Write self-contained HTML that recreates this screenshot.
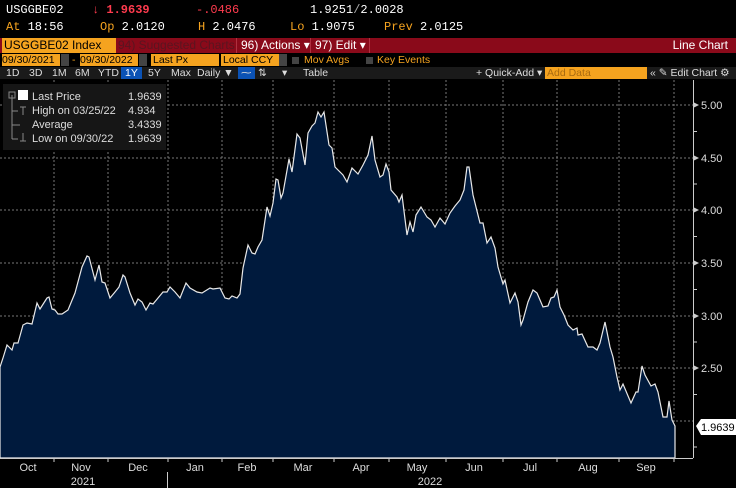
<!DOCTYPE html>
<html><head><meta charset="utf-8"><style>
body{margin:0;width:736px;height:488px;background:#000;overflow:hidden;position:relative;font-family:"Liberation Sans",sans-serif;}
.a{position:absolute;white-space:nowrap;}
.m{font-family:"Liberation Mono",monospace;font-size:12px;color:#fff;}
.o{color:#f5a31f;}
.s{font-size:10.5px;}
</style></head><body>
<div class="a m" style="left:6px;top:3px">USGGBE02</div>
<div class="a m" style="left:92px;top:3px;color:#ff3b4e">&#8595; <b>1.9639</b></div>
<div class="a m" style="left:196px;top:3px;color:#ff3b4e">-.0486</div>
<div class="a m" style="left:310px;top:3px">1.9251<span style="color:#aaa">/</span>2.0028</div>
<div class="a m" style="left:6px;top:20px"><span class="o">At</span> 18:56</div>
<div class="a m" style="left:100px;top:20px"><span class="o">Op</span> 2.0120</div>
<div class="a m" style="left:198px;top:20px"><span class="o">H</span>  2.0476</div>
<div class="a m" style="left:290px;top:20px"><span class="o">Lo</span> 1.9075</div>
<div class="a m" style="left:384px;top:20px"><span class="o">Prev</span> 2.0125</div>

<div class="a" style="left:0;top:38px;width:736px;height:15px;background:#8a0a1a"></div>
<div class="a" style="left:2px;top:38px;width:114px;height:15px;background:#f5a31f;color:#000;font-size:12px;line-height:15px;padding-left:2px;box-sizing:border-box">USGGBE02 Index</div>
<div class="a" style="left:118px;top:38px;font-size:12px;line-height:15px;color:#5a1520">94) Suggested Charts</div>
<div class="a" style="left:236px;top:38px;width:72px;height:15px;border-left:1px solid #b03040;font-size:12px;line-height:15px;color:#fff;padding-left:4px">96) Actions ▾</div>
<div class="a" style="left:310px;top:38px;width:54px;height:15px;border-left:1px solid #b03040;border-right:1px solid #b03040;font-size:12px;line-height:15px;color:#fff;padding-left:4px">97) Edit ▾</div>
<div class="a" style="right:8px;top:38px;font-size:12px;line-height:15px;color:#fff">Line Chart</div>

<div class="a s" style="left:2px;top:54px;width:58px;height:12px;background:#f5a31f;color:#000;line-height:12px">09/30/2021</div>
<div class="a s" style="left:61px;top:54px;width:8px;height:12px;background:#444"></div>
<div class="a s" style="left:72px;top:54px;color:#f5a31f;line-height:12px">-</div>
<div class="a s" style="left:80px;top:54px;width:58px;height:12px;background:#f5a31f;color:#000;line-height:12px">09/30/2022</div>
<div class="a s" style="left:139px;top:54px;width:8px;height:12px;background:#444"></div>
<div class="a s" style="left:151px;top:54px;width:66px;height:12px;background:#f5a31f;color:#000;line-height:12px;padding-left:2px">Last Px</div>
<div class="a s" style="left:221px;top:54px;width:56px;height:12px;background:#f5a31f;color:#000;line-height:12px;padding-left:2px">Local CCY</div>
<div class="a s" style="left:279px;top:54px;width:8px;height:12px;background:#444"></div>
<div class="a" style="left:292px;top:57px;width:7px;height:7px;background:#444"></div>
<div class="a s o" style="left:304px;top:54px;line-height:12px">Mov Avgs</div>
<div class="a" style="left:366px;top:57px;width:7px;height:7px;background:#444"></div>
<div class="a s o" style="left:377px;top:54px;line-height:12px">Key Events</div>

<div class="a" style="left:0;top:67px;width:736px;height:12px;background:#1a1a1a"></div>
<div class="a s" style="left:0;top:67px;line-height:12px;color:#ddd;word-spacing:0">
<span style="position:absolute;left:6px">1D</span><span style="position:absolute;left:29px">3D</span><span style="position:absolute;left:52px">1M</span><span style="position:absolute;left:75px">6M</span><span style="position:absolute;left:98px">YTD</span><span style="position:absolute;left:121px;background:#0b52b5;padding:0 4px;color:#fff">1Y</span><span style="position:absolute;left:148px">5Y</span><span style="position:absolute;left:171px">Max</span><span style="position:absolute;left:197px">Daily ▼</span><span style="position:absolute;left:238px;background:#0b52b5;padding:0 3px">⁓</span><span style="position:absolute;left:258px">⇅</span><span style="position:absolute;left:282px">▾</span><span style="position:absolute;left:303px">Table</span></div>
<div class="a s" style="left:476px;top:67px;line-height:12px;color:#ddd">+ Quick-Add ▾</div>
<div class="a s" style="left:545px;top:67px;width:100px;height:12px;background:#f5a31f;color:#a86a10;line-height:12px;padding-left:2px">Add Data</div>
<div class="a s" style="left:650px;top:67px;line-height:12px;color:#ddd">« &#9998; Edit Chart ⚙</div>

<svg class="a" style="left:0;top:80px" width="736" height="408" viewBox="0 80 736 408">
<g stroke="#777" stroke-width="1" stroke-dasharray="2,2" fill="none">
<path d="M0 105H693M0 158H693M0 210H693M0 263H693M0 316H693M0 368H693M0 421H693"/>
<path d="M54 80V458M108 80V458M168 80V458M222 80V458M273 80V458M334 80V458M389 80V458M446 80V458M503 80V458M557 80V458M619 80V458M674 80V458"/>
</g>
<path fill="#001a3d" stroke="#e8e8e8" stroke-width="1.2" d="M0 367L3 358L7 345L12 350L14 343L18 343L23 325L27 323L32 324L37 303L40 309L47 298L49 297L52 309L55 310L58 314L62 314L65 312L68 310L75 293L82 267L87 256L89 257L95 280L99 265L102 282L105 283L110 298L115 292L119 287L123 275L125 277L130 293L135 305L138 299L142 302L146 310L150 303L153 304L158 298L163 292L167 292L170 287L175 292L180 298L186 283L190 288L197 292L202 293L210 288L213 289L220 288L225 298L229 299L232 296L237 298L240 294L243 268L248 245L252 253L255 254L258 247L262 240L267 207L270 216L273 203L276 179L278 180L281 198L283 193L289 159L292 172L297 134L300 138L305 165L308 133L312 126L315 123L318 112L321 117L324 112L329 145L332 148L335 167L343 175L347 182L352 168L358 174L363 165L368 155L372 136L375 160L380 177L383 175L386 164L389 172L391 190L397 197L399 202L402 195L407 235L410 222L413 232L416 215L421 207L427 217L431 220L435 227L440 218L445 224L450 213L455 206L460 200L464 190L467 167L469 167L473 195L480 223L483 223L487 243L491 237L495 248L498 267L503 284L505 280L510 303L515 293L518 302L521 325L523 320L528 302L533 290L537 293L543 307L548 306L551 298L554 297L557 290L560 307L564 315L568 325L573 330L577 328L578 335L582 334L588 347L593 347L597 350L600 343L605 322L610 347L613 357L617 377L620 390L623 384L631 403L636 392L638 392L642 366L645 375L651 386L655 384L658 392L663 417L667 417L669 401L672 420L675 426L675 458L0 458Z"/>
<path d="M0 458.5H693M693.5 80V458" stroke="#ccc" stroke-width="1"/>
<path d="M54 458V462M108 458V462M168 458V462M222 458V462M273 458V462M334 458V462M389 458V462M446 458V462M503 458V462M557 458V462M619 458V462M674 458V462M167.5 472V488" stroke="#ccc"/>
<g stroke="#ccc"><path d="M693 131.5h4M693 184h4M693 236.5h4M693 289.5h4M693 342h4M693 394.5h4M693 447h4"/></g>
<g fill="#ccc"><path d="M693 102l6 3-6 3z"/><path d="M693 155l6 3-6 3z"/><path d="M693 207l6 3-6 3z"/><path d="M693 260l6 3-6 3z"/><path d="M693 313l6 3-6 3z"/><path d="M693 365l6 3-6 3z"/></g>
<g fill="#ddd" font-family="Liberation Sans,sans-serif" font-size="11">
<text x="701" y="109">5.00</text><text x="701" y="162">4.50</text><text x="701" y="214">4.00</text><text x="701" y="267">3.50</text><text x="701" y="320">3.00</text><text x="701" y="372">2.50</text>
<g text-anchor="middle"><text x="28" y="471">Oct</text><text x="81" y="471">Nov</text><text x="138" y="471">Dec</text><text x="195" y="471">Jan</text><text x="247" y="471">Feb</text><text x="303" y="471">Mar</text><text x="361" y="471">Apr</text><text x="417" y="471">May</text><text x="474" y="471">Jun</text><text x="530" y="471">Jul</text><text x="588" y="471">Aug</text><text x="646" y="471">Sep</text><text x="83" y="485">2021</text><text x="430" y="485">2022</text></g>
</g>
<path d="M696 426l5-7h35v16h-35z" fill="#fff"/>
<text x="701" y="431" font-family="Liberation Sans,sans-serif" font-size="11" fill="#000">1.9639</text>
<rect x="3" y="84" width="163" height="66" fill="#161616"/>
<g fill="#ddd" font-family="Liberation Sans,sans-serif" font-size="11">
<rect x="18" y="90" width="10" height="10" fill="#fff"/>
<text x="32" y="100">Last Price</text><text x="128" y="100">1.9639</text>
<text x="32" y="114">High on 03/25/22</text><text x="128" y="114">4.934</text>
<text x="32" y="128">Average</text><text x="128" y="128">3.4339</text>
<text x="32" y="142">Low on 09/30/22</text><text x="128" y="142">1.9639</text>
</g>
<path d="M12 95V139M12 111h6M12 125h8M12 139h6M20 107h6M23 107v8M20 141h6M23 133v8" stroke="#888" fill="none"/>
<rect x="9" y="92" width="6" height="6" fill="none" stroke="#888"/>
</svg>
</body></html>
